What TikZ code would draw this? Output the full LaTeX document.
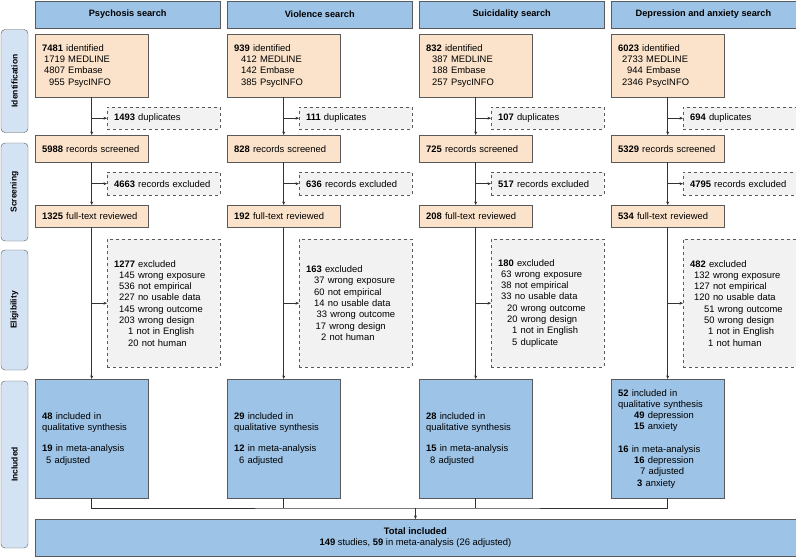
\documentclass[tikz,border=0pt]{standalone}
\usepackage{fontspec}
\setmainfont{Liberation Sans}
\usepackage{tikz}
\usetikzlibrary{arrows.meta, positioning}
\definecolor{hdrblue}{HTML}{9DC3E6}
\definecolor{stageorange}{HTML}{FBE3CB}
\definecolor{exgray}{HTML}{F2F2F2}
\definecolor{sideblue}{HTML}{D4E3F3}
\definecolor{edge}{HTML}{595959}

\begin{document}
\begin{tikzpicture}[x=1pt, y=-1pt, >={Stealth[length=3.5pt,width=3pt]},
    font=\fontsize{9.4}{11.3}\selectfont,
    hdr/.style={draw=edge, fill=hdrblue, anchor=north west, minimum width=185pt, minimum height=27.5pt, inner sep=0pt, font=\fontsize{9.2}{11}\selectfont\bfseries},
    stagebox/.style={draw=edge, fill=stageorange, anchor=north west, text width=99pt, inner xsep=7pt, inner ysep=0pt, align=left},
    exbox/.style={draw=edge, dashed, fill=exgray, anchor=north west, text width=99pt, inner xsep=7pt, inner ysep=0pt, align=left},
    incbox/.style={draw=edge, fill=hdrblue, anchor=north west, text width=99pt, inner xsep=7pt, inner ysep=0pt, align=left, minimum height=119pt},
    sidebox/.style={draw=edge, fill=sideblue, rounded corners=4pt, rotate=90, minimum height=27pt, inner sep=0pt, font=\fontsize{8.5}{10}\selectfont\bfseries},
    link/.style={draw=black!80, semithick}]
    \useasboundingbox (0,0) rectangle (796,557);

    \node (sideid) at (14.5,81) [sidebox, minimum width=103pt] {Identification};
    \node (sidescr) at (14.5,192) [sidebox, minimum width=98pt] {Screening};
    \node (sideelig) at (14.5,310) [sidebox, minimum width=120pt] {Eligibility};
    \node (sideinc) at (14.5,464.5) [sidebox, minimum width=167pt] {Included};

    \node (psyhdr) at (35,0.5) [hdr] {Psychosis search};
    \node (viohdr) at (227,0.5) [hdr] {Violence search};
    \node (suihdr) at (419,0.5) [hdr] {Suicidality search};
    \node (dephdr) at (611,0.5) [hdr, minimum width=184.5pt] {Depression and anxiety search};

    \node (psyident) at (35,34) [stagebox, minimum height=63pt] {\textbf{7481} identified\\\hspace*{2pt}1719 MEDLINE\\\hspace*{2pt}4807 Embase\\\hspace*{7pt}955 PsycINFO};
    \node (vioident) at (227,34) [stagebox, minimum height=63pt] {\textbf{939} identified\\\hspace*{7pt}412 MEDLINE\\\hspace*{7pt}142 Embase\\\hspace*{7pt}385 PsycINFO};
    \node (suiident) at (419,34) [stagebox, minimum height=63pt] {\textbf{832} identified\\\hspace*{6pt}387 MEDLINE\\\hspace*{6pt}188 Embase\\\hspace*{6pt}257 PsycINFO};
    \node (depident) at (611,34) [stagebox, minimum height=63pt] {\textbf{6023} identified\\\hspace*{4pt}2733 MEDLINE\\\hspace*{9pt}944 Embase\\\hspace*{4pt}2346 PsycINFO};

    \node (psydup) at (107,107) [exbox, minimum height=22pt] {\textbf{1493} duplicates};
    \node (viodup) at (299,107) [exbox, minimum height=22pt] {\textbf{111} duplicates};
    \node (suidup) at (491,107) [exbox, minimum height=22pt] {\textbf{107} duplicates};
    \node (depdup) at (683,107) [exbox, minimum height=22pt, text width=98.5pt] {\textbf{694} duplicates};

    \node (psyscreen) at (35,135) [stagebox, minimum height=27pt] {\textbf{5988} records screened};
    \node (vioscreen) at (227,135) [stagebox, minimum height=27pt] {\textbf{828} records screened};
    \node (suiscreen) at (419,135) [stagebox, minimum height=27pt] {\textbf{725} records screened};
    \node (depscreen) at (611,135) [stagebox, minimum height=27pt] {\textbf{5329} records screened};

    \node (psyrecx) at (107,172) [exbox, minimum height=23pt] {\textbf{4663} records excluded};
    \node (viorecx) at (299,172) [exbox, minimum height=23pt] {\textbf{636} records excluded};
    \node (suirecx) at (491,172) [exbox, minimum height=23pt] {\textbf{517} records excluded};
    \node (deprecx) at (683,172) [exbox, minimum height=23pt, text width=98.5pt] {\textbf{4795} records excluded};

    \node (psyfull) at (35,205) [stagebox, minimum height=22pt] {\textbf{1325} full-text reviewed};
    \node (viofull) at (227,205) [stagebox, minimum height=22pt] {\textbf{192} full-text reviewed};
    \node (suifull) at (419,205) [stagebox, minimum height=22pt] {\textbf{208} full-text reviewed};
    \node (depfull) at (611,205) [stagebox, minimum height=22pt] {\textbf{534} full-text reviewed};

    \node (psyexcl) at (107,239) [exbox, minimum height=128pt] {\textbf{1277} excluded\\\hspace*{5pt}145 wrong exposure\\\hspace*{5pt}536 not empirical\\\hspace*{5pt}227 no usable data\\\hspace*{5pt}145 wrong outcome\\\hspace*{5pt}203 wrong design\\\hspace*{14pt}1 not in English\\\hspace*{14pt}20 not human};
    \node (vioexcl) at (299,239) [exbox, minimum height=128pt] {\textbf{163} excluded\\\hspace*{8pt}37 wrong exposure\\\hspace*{8pt}60 not empirical\\\hspace*{8pt}14 no usable data\\\hspace*{10.5pt}33 wrong outcome\\\hspace*{9.5pt}17 wrong design\\\hspace*{15pt}2 not human};
    \node (suiexcl) at (491,239) [exbox, minimum height=128pt] {\textbf{180} excluded\\\hspace*{3pt}63 wrong exposure\\\hspace*{3pt}38 not empirical\\\hspace*{3pt}33 no usable data\\\hspace*{9pt}20 wrong outcome\\\hspace*{9pt}20 wrong design\\\hspace*{14pt}1 not in English\\\hspace*{14pt}5 duplicate};
    \node (depexcl) at (683,239) [exbox, minimum height=128pt, text width=98.5pt] {\textbf{482} excluded\\\hspace*{4pt}132 wrong exposure\\\hspace*{4pt}127 not empirical\\\hspace*{4pt}120 no usable data\\\hspace*{14pt}51 wrong outcome\\\hspace*{14pt}50 wrong design\\\hspace*{18pt}1 not in English\\\hspace*{18pt}1 not human};

    \node (psyincl) at (35,379) [incbox] {\textbf{48} included in\\qualitative synthesis\\[10pt]\textbf{19} in meta-analysis\\\hspace*{4pt}5 adjusted};
    \node (vioincl) at (227,379) [incbox] {\textbf{29} included in\\qualitative synthesis\\[10pt]\textbf{12} in meta-analysis\\\hspace*{5pt}6 adjusted};
    \node (suiincl) at (419,379) [incbox] {\textbf{28} included in\\qualitative synthesis\\[10pt]\textbf{15} in meta-analysis\\\hspace*{4pt}8 adjusted};
    \node (depincl) at (611,379) [incbox] {\textbf{52} included in\\qualitative synthesis\\\hspace*{16pt}\textbf{49} depression\\\hspace*{16pt}\textbf{15} anxiety\\[11pt]\textbf{16} in meta-analysis\\\hspace*{16pt}\textbf{16} depression\\\hspace*{22pt}7 adjusted\\\hspace*{19pt}\textbf{3} anxiety};

    \node (total) at (35,519) [draw=edge, fill=hdrblue, anchor=north west, minimum width=760.5pt, minimum height=37pt, inner sep=0pt, align=center] {\textbf{Total included}\\\textbf{149} studies, \textbf{59} in meta-analysis (26 adjusted)};

    \draw[link, ->] (psyident) -- (psyscreen);
    \draw[link, ->] (psyident.south |- psydup.west) -- (psydup.west);
    \draw[link, ->] (psyscreen) -- (psyfull);
    \draw[link, ->] (psyscreen.south |- psyrecx.west) -- (psyrecx.west);
    \draw[link, ->] (psyfull) -- (psyincl);
    \draw[link, ->] (psyfull.south |- psyexcl.west) -- (psyexcl.west);

    \draw[link, ->] (vioident) -- (vioscreen);
    \draw[link, ->] (vioident.south |- viodup.west) -- (viodup.west);
    \draw[link, ->] (vioscreen) -- (viofull);
    \draw[link, ->] (vioscreen.south |- viorecx.west) -- (viorecx.west);
    \draw[link, ->] (viofull) -- (vioincl);
    \draw[link, ->] (viofull.south |- vioexcl.west) -- (vioexcl.west);

    \draw[link, ->] (suiident) -- (suiscreen);
    \draw[link, ->] (suiident.south |- suidup.west) -- (suidup.west);
    \draw[link, ->] (suiscreen) -- (suifull);
    \draw[link, ->] (suiscreen.south |- suirecx.west) -- (suirecx.west);
    \draw[link, ->] (suifull) -- (suiincl);
    \draw[link, ->] (suifull.south |- suiexcl.west) -- (suiexcl.west);

    \draw[link, ->] (depident) -- (depscreen);
    \draw[link, ->] (depident.south |- depdup.west) -- (depdup.west);
    \draw[link, ->] (depscreen) -- (depfull);
    \draw[link, ->] (depscreen.south |- deprecx.west) -- (deprecx.west);
    \draw[link, ->] (depfull) -- (depincl);
    \draw[link, ->] (depfull.south |- depexcl.west) -- (depexcl.west);

    \coordinate[above=11pt of total.north] (bus);
    \draw[link] (psyincl.south) |- (bus) -- (depincl.south |- bus) -- (depincl.south);
    \draw[link] (vioincl.south) -- (vioincl.south |- bus);
    \draw[link] (suiincl.south) -- (suiincl.south |- bus);
    \draw[link, ->] (bus) -- (total.north);
\end{tikzpicture}
\end{document}
